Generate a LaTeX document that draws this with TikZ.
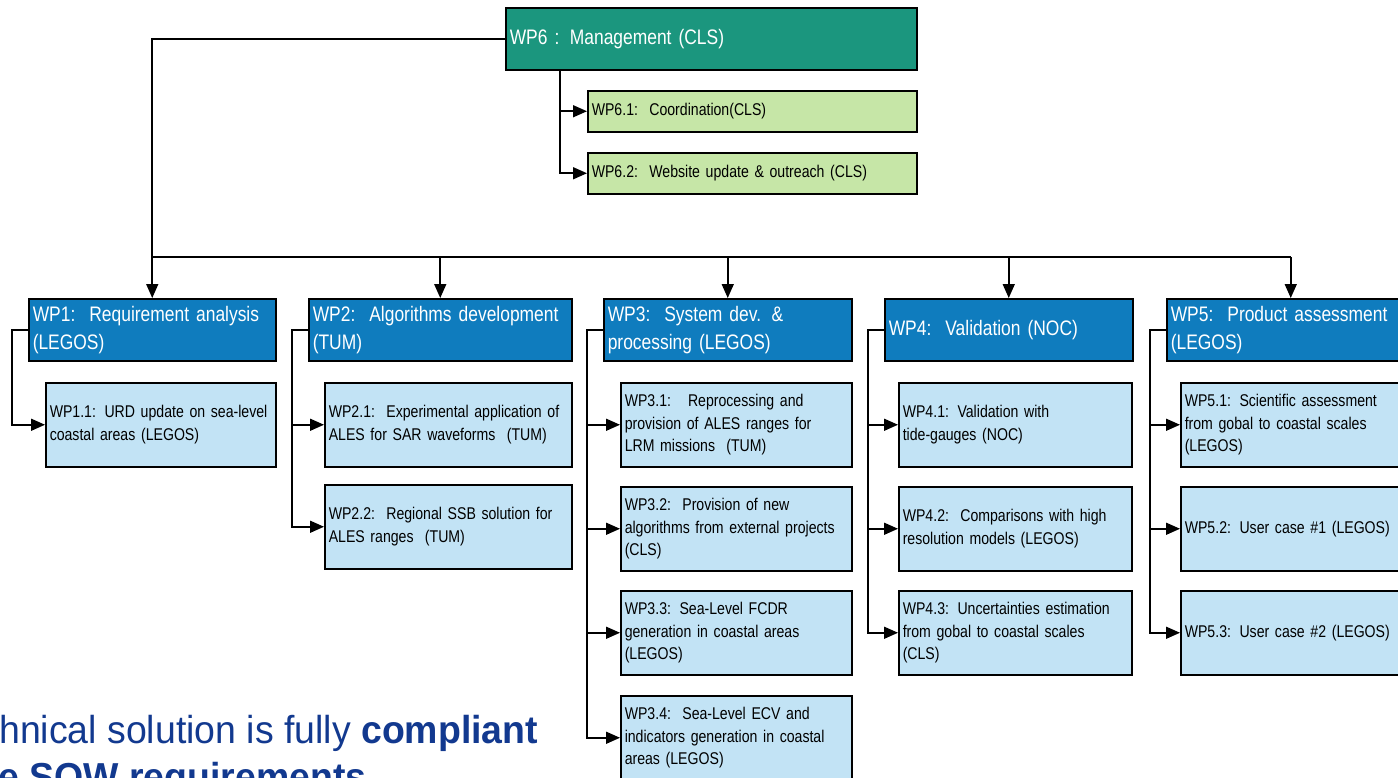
\documentclass[tikz,border=0pt]{standalone}
\usepackage{fontspec}
\setmainfont{Liberation Sans}[FakeStretch=0.83]
\newfontfamily\slidefont{Liberation Sans}[FakeStretch=0.96]
\usetikzlibrary{positioning,arrows.meta,calc}
\definecolor{MgmtTeal}{HTML}{1B967E}
\definecolor{MgmtGreen}{HTML}{C6E6A7}
\definecolor{WpBlue}{HTML}{0F7CBE}
\definecolor{TaskBlue}{HTML}{C2E3F5}
\definecolor{SlideBlue}{HTML}{12398F}

\begin{document}
\begin{tikzpicture}[x=1pt,y=-1pt,
    box/.style={draw=black, line width=1.5pt, rectangle, anchor=north west,
      align=left, inner xsep=4pt, inner ysep=0pt},
    mgmt/.style={box, fill=MgmtTeal, text=white,
      font=\fontsize{21}{27}\selectfont, minimum height=62pt},
    mgmtsub/.style={box, fill=MgmtGreen, font=\fontsize{17}{22}\selectfont,
      minimum height=41pt},
    wpbox/.style={box, fill=WpBlue, text=white,
      font=\fontsize{21}{28}\selectfont, minimum height=62pt},
    taskbox/.style={box, fill=TaskBlue, font=\fontsize{17}{22.5}\selectfont,
      minimum height=84pt},
    ar/.style={-{Triangle[length=14pt,width=12pt]}, line width=1.6pt},
    ln/.style={line width=2pt}]
  \useasboundingbox (0,0) rectangle (1398,777);
  \clip (0,0) rectangle (1398,777);

  % management
  \node[mgmt, text width=403pt] (wp6) at (505,7) {WP6 : Management (CLS)};
  \node[mgmtsub, text width=321pt] (wp61) at (587,90)
    {WP6.1:\ \ Coordination(CLS)};
  \node[mgmtsub, text width=321pt] (wp62) at (587,152)
    {WP6.2:\ \ Website update \& outreach (CLS)};

  % work packages
  \node[wpbox, text width=239pt] (wp1) at (28,298)
    {WP1:\ \ Requirement analysis\\(LEGOS)};
  \node[wpbox, text width=255pt] (wp2) at (308,298)
    {WP2:\ \ Algorithms development\\(TUM)};
  \node[wpbox, text width=240pt] (wp3) at (603,298)
    {WP3:\ \ System dev. \&\\processing (LEGOS)};
  \node[wpbox, text width=240pt] (wp4) at (884,298)
    {WP4:\ \ Validation (NOC)};
  \node[wpbox, text width=240pt] (wp5) at (1166,298)
    {WP5:\ \ Product assessment\\(LEGOS)};

  % tasks
  \node[taskbox, text width=222pt] (wp11) at (45,382)
    {\mbox{WP1.1: URD update on sea-level}\\coastal areas (LEGOS)};

  \node[taskbox, text width=239pt] (wp21) at (324,382)
    {WP2.1:\ \ Experimental application of\\ALES for SAR waveforms\ \ (TUM)};
  \node[taskbox, text width=239pt] (wp22) at (324,484)
    {WP2.2:\ \ Regional SSB solution for\\ALES ranges\ \ (TUM)};

  \node[taskbox, text width=223pt] (wp31) at (620,382)
    {WP3.1:\ \ \ Reprocessing and\\provision of ALES ranges for\\LRM missions\ \ (TUM)};
  \node[taskbox, text width=223pt] (wp32) at (620,486)
    {WP3.2:\ \ Provision of new\\algorithms from external projects\\(CLS)};
  \node[taskbox, text width=223pt] (wp33) at (620,590)
    {WP3.3: Sea-Level FCDR\\generation in coastal areas\\(LEGOS)};
  \node[taskbox, text width=223pt] (wp34) at (620,695)
    {WP3.4:\ \ Sea-Level ECV and\\indicators generation in coastal\\areas (LEGOS)};

  \node[taskbox, text width=225pt] (wp41) at (898,382)
    {WP4.1: Validation with\\tide-gauges (NOC)};
  \node[taskbox, text width=225pt] (wp42) at (898,486)
    {WP4.2:\ \ Comparisons with high\\resolution models (LEGOS)};
  \node[taskbox, text width=225pt] (wp43) at (898,590)
    {WP4.3: Uncertainties estimation\\from gobal to coastal scales\\(CLS)};

  \node[taskbox, text width=226pt] (wp51) at (1180,382)
    {WP5.1: Scientific assessment\\from gobal to coastal scales\\(LEGOS)};
  \node[taskbox, text width=226pt] (wp52) at (1180,486)
    {WP5.2: User case \#1 (LEGOS)};
  \node[taskbox, text width=226pt] (wp53) at (1180,590)
    {WP5.3: User case \#2 (LEGOS)};

  % connectors
  \coordinate (m6) at (560,69);
  \draw[ar] (m6) |- (wp61.west);
  \draw[ar] (m6) |- (wp62.west);

  \draw[ar] (wp6.west) -| (wp1.north);
  \coordinate (bus) at (151,257);
  \draw[ln] (bus) -- (bus -| wp5.north);
  \foreach \w in {wp2,wp3,wp4,wp5}
    \draw[ar] (bus -| \w.north) -- (\w.north);

  \foreach \h/\t in {wp1/wp11, wp2/wp21, wp2/wp22, wp3/wp31, wp3/wp32,
      wp3/wp33, wp3/wp34, wp4/wp41, wp4/wp42, wp4/wp43, wp5/wp51,
      wp5/wp52, wp5/wp53}
    \draw[ar] (\h.west) -- ++(-16,0) |- (\t.west);

  % slide text behind the chart
  \node[anchor=base west, inner sep=0pt, text=SlideBlue,
    font=\slidefont\fontsize{39}{47}\selectfont] (claima) at (-1,743)
    {hnical solution is fully \textbf{compliant}};
  \node[anchor=base west, inner sep=0pt, text=SlideBlue,
    font=\slidefont\fontsize{39}{47}\selectfont] (claimb) at (-2,790)
    {\textbf{e SOW requirements}};
\end{tikzpicture}
\end{document}
